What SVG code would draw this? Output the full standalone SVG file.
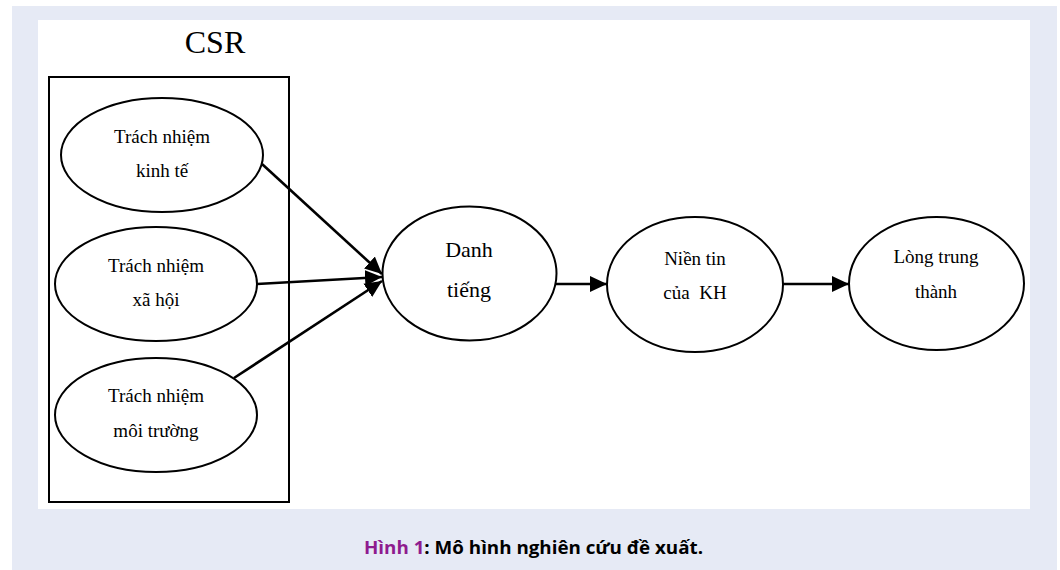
<svg xmlns="http://www.w3.org/2000/svg" width="1060" height="570" viewBox="0 0 1060 570">
  <style>
    .node ellipse { fill: #ffffff; stroke: #000000; stroke-width: 2; }
    .lbl { font-family: "Liberation Serif", "Times New Roman", serif; font-size: 19px; fill: #000000; text-anchor: middle; }
    .lbl-big { font-family: "Liberation Serif", "Times New Roman", serif; font-size: 22px; fill: #000000; text-anchor: middle; }
    .edge { stroke: #000000; stroke-width: 2.6; fill: none; marker-end: url(#arrow); }
    .cap { font-family: "Open Sans", "Noto Sans", sans-serif; font-size: 17.5px; font-weight: 700; }
  </style>
  <defs>
    <marker id="arrow" markerUnits="userSpaceOnUse" markerWidth="18" markerHeight="18" viewBox="0 0 18 18" refX="17" refY="9" orient="auto">
      <path d="M0,1 L17,9 L0,17 Z" fill="#000000"/>
    </marker>
  </defs>
  <rect x="0" y="0" width="1060" height="570" fill="#ffffff"/>
  <rect x="12" y="6" width="1045" height="564" fill="#e6eaf5"/>
  <rect x="38" y="20" width="992" height="489" fill="#ffffff"/>

  <g id="csr-group">
    <text x="215" y="53" font-family="Liberation Serif, Times New Roman, serif" font-size="32" text-anchor="middle" fill="#000">CSR</text>
    <rect x="49" y="77" width="240" height="425" fill="none" stroke="#000" stroke-width="2"/>
  </g>

  <g id="edges">
    <line class="edge" x1="262" y1="164" x2="382" y2="274"/>
    <line class="edge" x1="257" y1="284" x2="382" y2="277"/>
    <line class="edge" x1="234" y1="378" x2="382" y2="281"/>
    <line class="edge" x1="556" y1="284" x2="607" y2="284"/>
    <line class="edge" x1="783" y1="284" x2="849" y2="284"/>
  </g>

  <g id="node-kinhte" class="node">
    <ellipse cx="162" cy="155" rx="101" ry="57"/>
    <text class="lbl" x="162" y="143">Trách nhiệm</text>
    <text class="lbl" x="162" y="177">kinh tế</text>
  </g>
  <g id="node-xahoi" class="node">
    <ellipse cx="156" cy="284" rx="101" ry="57"/>
    <text class="lbl" x="156" y="272">Trách nhiệm</text>
    <text class="lbl" x="156" y="306">xã hội</text>
  </g>
  <g id="node-moitruong" class="node">
    <ellipse cx="156" cy="415" rx="101" ry="57"/>
    <text class="lbl" x="156" y="402">Trách nhiệm</text>
    <text class="lbl" x="156" y="437">môi trường</text>
  </g>
  <g id="node-danhtieng" class="node">
    <ellipse cx="469.5" cy="273.5" rx="87" ry="67"/>
    <text class="lbl-big" x="469" y="257">Danh</text>
    <text class="lbl-big" x="469" y="297">tiếng</text>
  </g>
  <g id="node-niemtin" class="node">
    <ellipse cx="695" cy="284.5" rx="88" ry="67.5"/>
    <text class="lbl" x="695" y="265">Niền tin</text>
    <text class="lbl" x="695" y="299" xml:space="preserve">của  KH</text>
  </g>
  <g id="node-longtrungthanh" class="node">
    <ellipse cx="936.5" cy="283.5" rx="87.5" ry="66.5"/>
    <text class="lbl" x="936" y="263">Lòng trung</text>
    <text class="lbl" x="936" y="298">thành</text>
  </g>

  <g id="caption">
    <text class="cap" x="364" y="554" textLength="339" lengthAdjust="spacingAndGlyphs"><tspan fill="#8e1b8e">Hình 1</tspan><tspan fill="#000">: Mô hình nghiên cứu đề xuất.</tspan></text>
  </g>
</svg>
